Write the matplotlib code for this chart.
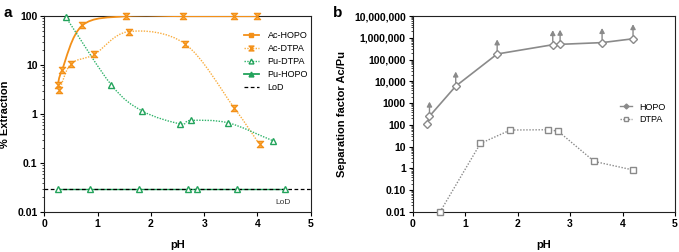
import numpy as np
import matplotlib
matplotlib.use("Agg")
import matplotlib.pyplot as plt
from matplotlib.path import Path
from matplotlib.patches import PathPatch
from matplotlib.lines import Line2D
from matplotlib.ticker import FixedLocator, FixedFormatter, LogLocator, NullFormatter

plt.rcParams['font.family'] = ['Liberation Sans', 'DejaVu Sans']

# ---- panel a data (% extraction vs pH) ----
ac_hopo_ph = [0.25, 0.33, 0.71, 1.53, 2.60, 3.56, 3.99]
ac_hopo_ext = [3.9, 7.8, 64, 99, 99, 99, 99]
ac_dtpa_ph = [0.28, 0.50, 0.94, 1.58, 2.64, 3.56, 4.04]
ac_dtpa_ext = [3.1, 10.5, 16.5, 48, 27, 1.35, 0.24]
pu_dtpa_ph = [0.40, 1.26, 1.84, 2.55, 2.75, 3.45, 4.29]
pu_dtpa_ext = [96, 3.9, 1.15, 0.63, 0.74, 0.66, 0.285]
pu_hopo_ph = [0.25, 0.85, 1.78, 2.70, 2.87, 3.61, 4.52]
pu_hopo_ext = [0.03, 0.03, 0.03, 0.03, 0.03, 0.03, 0.03]
lod = 0.03

# ---- panel b data (separation factor Ac/Pu) ----
hopo_ph = [0.27, 0.32, 0.82, 1.61, 2.67, 2.81, 3.61, 4.20]
hopo_sf = [110, 250, 6000, 180000, 480000, 500000, 600000, 900000]
hopo_lower_bound = [False, True, True, True, True, True, True, True]
dtpa_ph = [0.52, 1.29, 1.86, 2.57, 2.77, 3.46, 4.20]
dtpa_sf = [0.01, 14, 58, 60, 52, 2.1, 0.85]

a_yticks = [0.01, 0.1, 1, 10, 100]
a_ylabels = ['0.01', '0.1', '1', '10', '100']
b_yticks = [0.01, 0.1, 1, 10, 100, 1e3, 1e4, 1e5, 1e6, 1e7]
b_ylabels = ['0.01', '0.10', '1', '10', '100', '1000', '10,000', '100,000',
             '1,000,000', '10,000,000']

ORANGE = '#f39019'
ORANGE_L = '#f9ad3f'
GREEN = '#22a35b'
GREEN_L = '#2fb36a'
GRAY = '#8a8a8a'

# hourglass marker like the excel one
hourglass = Path([(-1, 1), (1, 1), (-1, -1), (1, -1), (-1, 1)],
                 [Path.MOVETO, Path.LINETO, Path.LINETO, Path.LINETO, Path.CLOSEPOLY])


def smooth_curve(ax, xs, ys, **kw):
    # catmull-rom through the points, done as bezier segments in log-y space
    p = np.column_stack([np.asarray(xs, float), np.log10(ys)])
    n = len(p)
    m = np.zeros_like(p)
    m[0] = p[1] - p[0]
    m[-1] = p[-1] - p[-2]
    m[1:-1] = (p[2:] - p[:-2]) / 2.0
    verts = [p[0]]
    codes = [Path.MOVETO]
    for i in range(n - 1):
        verts += [p[i] + m[i] / 3.0, p[i + 1] - m[i + 1] / 3.0, p[i + 1]]
        codes += [Path.CURVE4] * 3
    verts = np.array(verts)
    verts[:, 1] = 10 ** verts[:, 1]
    patch = PathPatch(Path(verts, codes), fill=False, **kw)
    ax.add_patch(patch)


def style_axes(ax, yticks, ylabels):
    ax.set_yscale('log')
    ax.set_xlim(0, 5)
    ax.set_xticks([0, 1, 2, 3, 4, 5])
    ax.yaxis.set_major_locator(FixedLocator(yticks))
    ax.yaxis.set_major_formatter(FixedFormatter(ylabels))
    ax.yaxis.set_minor_locator(LogLocator(base=10, subs=np.arange(2, 10)))
    ax.yaxis.set_minor_formatter(NullFormatter())
    ax.tick_params(axis='both', which='major', labelsize=7.5, length=3, width=0.8, pad=2)
    ax.tick_params(axis='y', which='minor', length=1.5, width=0.5)
    for lab in ax.get_xticklabels() + ax.get_yticklabels():
        lab.set_fontweight('bold')
    for s in ax.spines.values():
        s.set_linewidth(0.8)
        s.set_color('#222222')
    ax.set_xlabel('pH', fontsize=8, fontweight='bold', labelpad=8)


fig = plt.figure(figsize=(6.79, 2.52), dpi=100)
ax1 = fig.add_axes([0.0653, 0.1587, 0.3923, 0.7778])
ax2 = fig.add_axes([0.6078, 0.1587, 0.3863, 0.7778])

#-----------------------------
# panel a
style_axes(ax1, a_yticks, a_ylabels)
ax1.set_ylim(0.01, 100)
ax1.set_ylabel('% Extraction', fontsize=8, fontweight='bold')
ax1.yaxis.set_label_coords(-0.128, 0.5)

ax1.axhline(lod, color='black', lw=0.9, ls=(0, (3, 2)), zorder=4)
ax1.plot(pu_hopo_ph, pu_hopo_ext, color=GREEN, lw=1.0, zorder=3)

smooth_curve(ax1, ac_hopo_ph, ac_hopo_ext, edgecolor=ORANGE, lw=1.3, zorder=3)
smooth_curve(ax1, ac_dtpa_ph, ac_dtpa_ext, edgecolor=ORANGE_L, lw=1.0, ls=(0, (1, 1)), zorder=3)
smooth_curve(ax1, pu_dtpa_ph, pu_dtpa_ext, edgecolor=GREEN_L, lw=1.0, ls=(0, (1, 1)), zorder=3)

ax1.plot(ac_hopo_ph, ac_hopo_ext, ls='none', marker=hourglass, ms=4.5, mfc=ORANGE_L,
         mec=ORANGE, mew=0.9, clip_on=False, zorder=5)
ax1.plot(ac_dtpa_ph, ac_dtpa_ext, ls='none', marker=hourglass, ms=4.5, mfc=ORANGE_L,
         mec=ORANGE, mew=0.9, clip_on=False, zorder=5)
ax1.plot(pu_dtpa_ph, pu_dtpa_ext, ls='none', marker='^', ms=5, mfc='white',
         mec=GREEN, mew=1.0, clip_on=False, zorder=5)
ax1.plot(pu_hopo_ph, pu_hopo_ext, ls='none', marker='^', ms=5, mfc='white',
         mec=GREEN, mew=1.0, clip_on=False, zorder=5)
ax1.text(4.48, 0.016, 'LoD', fontsize=6, color='#333333', ha='center', va='center')

leg_a = [
    Line2D([], [], color=ORANGE, lw=1.3, marker='s', ms=2.5, mec=ORANGE, mfc=ORANGE),
    Line2D([], [], color=ORANGE_L, lw=1.0, ls=(0, (1, 1)), marker=hourglass, ms=3.5, mec=ORANGE, mfc=ORANGE_L),
    Line2D([], [], color=GREEN_L, lw=1.0, ls=(0, (1, 1)), marker='^', ms=3.5, mec=GREEN, mfc='white'),
    Line2D([], [], color=GREEN, lw=1.3, marker='^', ms=3.5, mec=GREEN, mfc=GREEN),
    Line2D([], [], color='black', lw=0.9, ls=(0, (3, 2))),
]
ax1.legend(leg_a, ['Ac-HOPO', 'Ac-DTPA', 'Pu-DTPA', 'Pu-HOPO', 'LoD'],
           loc='upper left', bbox_to_anchor=(0.72, 0.965), frameon=False,
           fontsize=6.5, handlelength=1.6, handletextpad=1.0, labelspacing=0.45)

#-----------------------------
# panel b
style_axes(ax2, b_yticks, b_ylabels)
ax2.set_ylim(0.01, 1e7)
ax2.set_ylabel('Separation factor Ac/Pu', fontsize=8, fontweight='bold')
ax2.yaxis.set_label_coords(-0.252, 0.5)

ax2.plot(hopo_ph, hopo_sf, color=GRAY, lw=1.2, marker='D', ms=4, mfc='white',
         mec=GRAY, mew=1.0, clip_on=False, zorder=3)
ax2.plot(dtpa_ph, dtpa_sf, color=GRAY, lw=1.0, ls=(0, (1, 1.2)), marker='s', ms=4.5,
         mfc='white', mec=GRAY, mew=1.0, clip_on=False, zorder=3)

# lower-bound arrows on the hopo points
for x, y, up in zip(hopo_ph, hopo_sf, hopo_lower_bound):
    if up:
        ax2.annotate('', xy=(x, y), xytext=(0, 10.5), textcoords='offset points',
                     arrowprops=dict(arrowstyle='<|-,head_length=0.28,head_width=0.15',
                                     color=GRAY, lw=1.0, shrinkA=0, shrinkB=2.5))

leg_b = [
    Line2D([], [], color=GRAY, lw=1.0, marker='D', ms=2.5, mfc=GRAY, mec=GRAY),
    Line2D([], [], color=GRAY, lw=1.0, ls=(0, (1, 1)), marker='s', ms=3.5, mfc='white', mec=GRAY),
]
ax2.legend(leg_b, ['HOPO', 'DTPA'], loc='upper left', bbox_to_anchor=(0.76, 0.6),
           frameon=False, fontsize=6.5, handlelength=1.3, handletextpad=0.8,
           labelspacing=0.4)

fig.text(0.005, 0.975, 'a', fontsize=11, fontweight='bold', va='top')
fig.text(0.49, 0.975, 'b', fontsize=11, fontweight='bold', va='top')

fig.savefig('out.png', dpi=100)
